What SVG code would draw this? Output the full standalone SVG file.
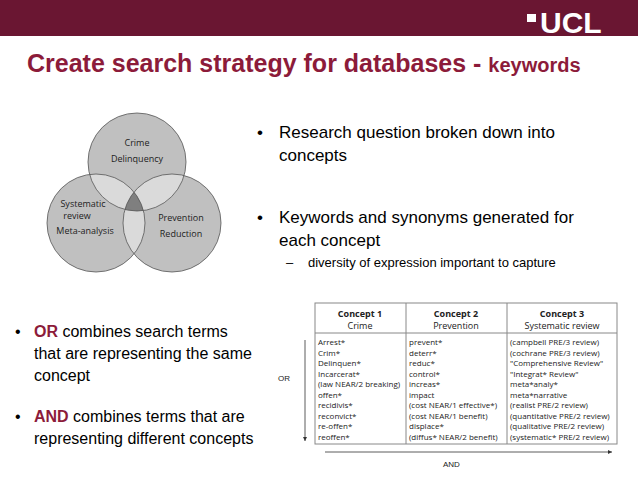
<svg xmlns="http://www.w3.org/2000/svg" width="638" height="479" viewBox="0 0 638 479">
<style>
.t{font-family:"Liberation Sans",Arial,sans-serif;fill:#000}
.c{font-family:"Open Sans","DejaVu Sans",sans-serif;fill:#222;font-size:8px}
.v{font-family:"Open Sans","DejaVu Sans",sans-serif;fill:#222;font-size:9px;text-anchor:middle}
.h{font-family:"Open Sans","DejaVu Sans",sans-serif;fill:#222;font-size:9px;text-anchor:middle}
.ln{stroke:#888;stroke-width:1;fill:none}
</style>
<defs>
<clipPath id="cA"><circle cx="137" cy="162" r="49"/></clipPath>
<clipPath id="cB"><circle cx="96" cy="223" r="49"/></clipPath>
<marker id="ar" viewBox="0 0 6 6" refX="6" refY="3" markerWidth="5" markerHeight="5" orient="auto"><path d="M0,0L6,3L0,6z" fill="#333"/></marker>
</defs>
<rect width="638" height="479" fill="#fff"/>
<g id="header">
<rect width="638" height="36" fill="#6a1632"/>
<text x="540" y="33" font-family="Liberation Sans,Arial,sans-serif" font-weight="bold" font-size="30" fill="#fff">UCL</text>
<rect x="527" y="14" width="9" height="8" fill="#fff"/>
</g>
<text x="27" y="72" font-family="Liberation Sans,Arial,sans-serif" font-weight="bold" font-size="25" fill="#8c1b3a">Create search strategy for databases - <tspan font-size="20">keywords</tspan></text>
<g id="venn">
<circle cx="137" cy="162" r="49" fill="#c0c0c0"/>
<circle cx="96" cy="223" r="49" fill="#c0c0c0"/>
<circle cx="172" cy="223" r="49" fill="#c0c0c0"/>
<g clip-path="url(#cA)"><circle cx="96" cy="223" r="49" fill="#dadada"/><circle cx="172" cy="223" r="49" fill="#dadada"/></g>
<g clip-path="url(#cB)"><circle cx="172" cy="223" r="49" fill="#dadada"/></g>
<g clip-path="url(#cA)"><g clip-path="url(#cB)"><circle cx="172" cy="223" r="49" fill="#7f7f7f"/></g></g>
<circle cx="137" cy="162" r="49" fill="none" stroke="#555" stroke-width="0.8"/>
<circle cx="96" cy="223" r="49" fill="none" stroke="#555" stroke-width="0.8"/>
<circle cx="172" cy="223" r="49" fill="none" stroke="#555" stroke-width="0.8"/>
<text class="v" x="137" y="146">Crime</text>
<text class="v" x="137" y="162">Delinquency</text>
<text class="v" x="83" y="207">Systematic</text>
<text class="v" x="77" y="219">review</text>
<text class="v" x="85" y="234">Meta-analysis</text>
<text class="v" x="181" y="221">Prevention</text>
<text class="v" x="181" y="237">Reduction</text>
</g>
<g class="t" font-size="17">
<text x="257" y="138">•</text><text x="279" y="138">Research question broken down into</text>
<text x="279" y="161">concepts</text>
<text x="257" y="223">•</text><text x="279" y="223">Keywords and synonyms generated for</text>
<text x="279" y="246">each concept</text>
<text x="286" y="267" font-size="13">–</text><text x="308" y="267" font-size="13">diversity of expression important to capture</text>
<g font-size="16">
<text x="15" y="337">•</text><text x="34" y="337"><tspan font-weight="bold" fill="#8c1b3a">OR</tspan> combines search terms</text>
<text x="34" y="359">that are representing the same</text>
<text x="34" y="381">concept</text>
<text x="15" y="422">•</text><text x="34" y="422"><tspan font-weight="bold" fill="#8c1b3a">AND</tspan> combines terms that are</text>
<text x="34" y="444">representing different concepts</text>
</g>
</g>
<g id="table">
<rect class="ln" x="315" y="303" width="302" height="141"/>
<line class="ln" x1="406" y1="303" x2="406" y2="444"/>
<line class="ln" x1="507" y1="303" x2="507" y2="444"/>
<line class="ln" x1="315" y1="333" x2="617" y2="333"/>
<text class="h" x="360" y="317" font-weight="bold">Concept 1</text>
<text class="h" x="360" y="329">Crime</text>
<text class="h" x="456" y="317" font-weight="bold">Concept 2</text>
<text class="h" x="456" y="329">Prevention</text>
<text class="h" x="562" y="317" font-weight="bold">Concept 3</text>
<text class="h" x="562" y="329">Systematic review</text>
<g class="c">
<text x="318" y="345">Arrest*</text><text x="318" y="355.5">Crim*</text><text x="318" y="366">Delinquen*</text><text x="318" y="376.5">Incarcerat*</text><text x="318" y="387">(law NEAR/2 breaking)</text><text x="318" y="397.5">offen*</text><text x="318" y="408">recidivis*</text><text x="318" y="418.5">reconvict*</text><text x="318" y="429">re-offen*</text><text x="318" y="439.5">reoffen*</text>
<text x="409" y="345">prevent*</text><text x="409" y="355.5">deterr*</text><text x="409" y="366">reduc*</text><text x="409" y="376.5">control*</text><text x="409" y="387">increas*</text><text x="409" y="397.5">impact</text><text x="409" y="408">(cost NEAR/1 effective*)</text><text x="409" y="418.5">(cost NEAR/1 benefit)</text><text x="409" y="429">displace*</text><text x="409" y="439.5">(diffus* NEAR/2 benefit)</text>
<text x="510" y="345">(campbell PRE/3 review)</text><text x="510" y="355.5">(cochrane PRE/3 review)</text><text x="510" y="366">"Comprehensive Review"</text><text x="510" y="376.5">"Integrat* Review"</text><text x="510" y="387">meta*analy*</text><text x="510" y="397.5">meta*narrative</text><text x="510" y="408">(realist PRE/2 review)</text><text x="510" y="418.5">(quantitative PRE/2 review)</text><text x="510" y="429">(qualitative PRE/2 review)</text><text x="510" y="439.5">(systematic* PRE/2 review)</text>
</g>
</g>
<g id="connectors">
<line x1="305" y1="340" x2="305" y2="441" stroke="#333" stroke-width="0.8" marker-end="url(#ar)"/>
<line x1="325" y1="452" x2="612" y2="452" stroke="#333" stroke-width="0.8" marker-end="url(#ar)"/>
<text x="278" y="381" font-family="Liberation Sans,Arial,sans-serif" font-size="8" fill="#222">OR</text>
<text x="443" y="467" font-family="Liberation Sans,Arial,sans-serif" font-size="8" fill="#222">AND</text>
</g>
</svg>
